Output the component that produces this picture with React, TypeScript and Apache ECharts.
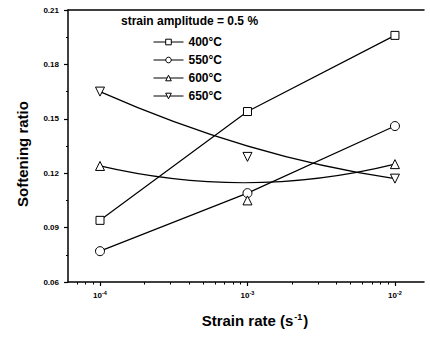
import React, { useEffect, useRef } from 'react';
import * as echarts from 'echarts';

const strainRates = [1e-4, 1e-3, 1e-2];
const s400 = [0.094, 0.154, 0.196];
const s550 = [0.077, 0.109, 0.146];
const s600 = [0.124, 0.105, 0.125];
const s650 = [0.165, 0.129, 0.117];
const seriesNames = ['400°C', '550°C', '600°C', '650°C'];
const legendTitle = 'strain amplitude = 0.5 %';
const yAxisName = 'Softening ratio';
const xMajorExps = [-4, -3, -2];
const minorMantissas = [2, 3, 4, 5, 6, 7, 8, 9];
const minorDecades = [-5, -4, -3, -2];
const xMinExp = -4.217;
const xMaxExp = -1.803;
const yMin = 0.06;
const yMax = 0.21;
const yStep = 0.03;

const FONT = '"Liberation Sans", Arial, sans-serif';

const xMinorTicks: number[] = [];
minorDecades.forEach((d) =>
  minorMantissas.forEach((m) => {
    const v = Math.log10(m) + d;
    if (v > xMinExp && v < xMaxExp) xMinorTicks.push(v);
  })
);

const toPts = (ys: number[]) => strainRates.map((x, i) => [Math.log10(x), ys[i]]);

const markerStyle = { color: '#fff', borderColor: '#000', borderWidth: 1 };

function bezierSeries(name: string, ys: number[]) {
  return {
    name,
    type: 'custom',
    xAxisIndex: 0,
    yAxisIndex: 0,
    z: 1,
    clip: false,
    silent: true,
    data: [[Math.log10(strainRates[1]), ys[1]]],
    renderItem: (_params: any, api: any) => {
      const p = toPts(ys).map((d) => api.coord(d));
      return {
        type: 'bezierCurve',
        shape: {
          x1: p[0][0], y1: p[0][1],
          cpx1: p[1][0], cpy1: p[1][1],
          x2: p[2][0], y2: p[2][1],
        },
        style: { stroke: '#000', fill: null, lineWidth: 1.2 },
      };
    },
  };
}

export default function App() {
  const ref = useRef<HTMLDivElement>(null);
  useEffect(() => {
    if (!ref.current) return;
    const chart = echarts.init(ref.current, null, { renderer: 'svg' });
    const option: any = {
      animation: false,
      backgroundColor: '#fff',
      textStyle: { fontFamily: FONT },
      title: {
        text: legendTitle,
        left: 121,
        top: 15,
        padding: 0,
        textStyle: { fontFamily: FONT, fontSize: 12, fontWeight: 'bold', color: '#000' },
      },
      legend: {
        data: seriesNames,
        orient: 'vertical',
        left: 153,
        top: 36,
        padding: 0,
        itemWidth: 30,
        itemHeight: 7,
        itemGap: 6,
        textStyle: { fontFamily: FONT, fontSize: 12, fontWeight: 'bold', color: '#000' },
        lineStyle: { color: '#000', width: 1, opacity: 1, type: 'solid' },
        itemStyle: { color: '#fff', borderColor: '#000', borderWidth: 1 },
      },
      grid: { left: 68, right: 6, top: 10, bottom: 56 },
      xAxis: [
        {
          type: 'value',
          min: xMinExp,
          max: xMaxExp,
          position: 'bottom',
          axisLine: { show: true, lineStyle: { color: '#000', width: 1.5 } },
          axisTick: { show: true, customValues: xMajorExps, length: 4, lineStyle: { color: '#000', width: 1.2 } },
          axisLabel: {
            customValues: xMajorExps,
            margin: 8,
            formatter: (v: number) => `{b|10}{s|${Math.round(v)}}`,
            rich: {
              b: { fontFamily: FONT, fontSize: 8, fontWeight: 'bold', color: '#000' },
              s: { fontFamily: FONT, fontSize: 5.5, fontWeight: 'bold', color: '#000', verticalAlign: 'top', padding: [0, 0, 4, 0] },
            },
          },
          splitLine: { show: false },
          name: `{t|Strain rate (s}{u|-1}{t|)}`,
          nameLocation: 'middle',
          nameGap: 30,
          nameTextStyle: {
            padding: [0, 0, 0, 18],
            rich: {
              t: { fontFamily: FONT, fontSize: 15, fontWeight: 'bold', color: '#000' },
              u: { fontFamily: FONT, fontSize: 9, fontWeight: 'bold', color: '#000', verticalAlign: 'top', padding: [0, 1, 8, 1] },
            },
          },
        },
        {
          type: 'value',
          min: xMinExp,
          max: xMaxExp,
          position: 'bottom',
          axisLine: { show: false },
          axisTick: { show: true, customValues: xMinorTicks, length: 2.5, lineStyle: { color: '#000', width: 1 } },
          axisLabel: { show: false },
          splitLine: { show: false },
        },
        {
          type: 'value',
          min: xMinExp,
          max: xMaxExp,
          position: 'top',
          axisLine: { show: true, lineStyle: { color: '#000', width: 1.5 } },
          axisTick: { show: false },
          axisLabel: { show: false },
          splitLine: { show: false },
        },
      ],
      yAxis: {
        type: 'value',
        min: yMin,
        max: yMax,
        interval: yStep,
        axisLine: { show: true, lineStyle: { color: '#000', width: 1.5 } },
        axisTick: { show: true, length: 4, lineStyle: { color: '#000', width: 1.2 } },
        minorTick: { show: true, splitNumber: 2, length: 2, lineStyle: { color: '#000', width: 1 } },
        splitLine: { show: false },
        minorSplitLine: { show: false },
        axisLabel: {
          margin: 9,
          formatter: (v: number) => v.toFixed(2),
          fontFamily: FONT,
          fontSize: 8,
          fontWeight: 'bold',
          color: '#000',
        },
        name: yAxisName,
        nameLocation: 'middle',
        nameGap: 38,
        nameTextStyle: {
          fontFamily: FONT,
          fontSize: 15,
          fontWeight: 'bold',
          color: '#000',
          padding: [0, 16, 0, 0],
        },
      },
      series: [
        {
          name: seriesNames[0],
          type: 'line',
          data: toPts(s400),
          symbol: 'rect',
          symbolSize: 8,
          z: 3,
          lineStyle: { color: '#000', width: 1.2 },
          itemStyle: markerStyle,
        },
        {
          name: seriesNames[1],
          type: 'line',
          data: toPts(s550),
          symbol: 'circle',
          symbolSize: 9,
          z: 3,
          lineStyle: { color: '#000', width: 1.2 },
          itemStyle: markerStyle,
        },
        {
          name: seriesNames[2],
          type: 'line',
          data: toPts(s600),
          symbol: 'triangle',
          symbolSize: 9,
          z: 3,
          lineStyle: { color: '#000', width: 0, opacity: 0 },
          itemStyle: markerStyle,
        },
        {
          name: seriesNames[3],
          type: 'line',
          data: toPts(s650),
          symbol: 'triangle',
          symbolRotate: 180,
          symbolSize: 9,
          z: 3,
          lineStyle: { color: '#000', width: 0, opacity: 0 },
          itemStyle: markerStyle,
        },
        bezierSeries('600fit', s600),
        bezierSeries('650fit', s650),
      ],
    };
    chart.setOption(option);
    return () => chart.dispose();
  }, []);
  return <div ref={ref} style={{ width: 430, height: 338, position: 'absolute', left: 0, top: 0 }} />;
}
